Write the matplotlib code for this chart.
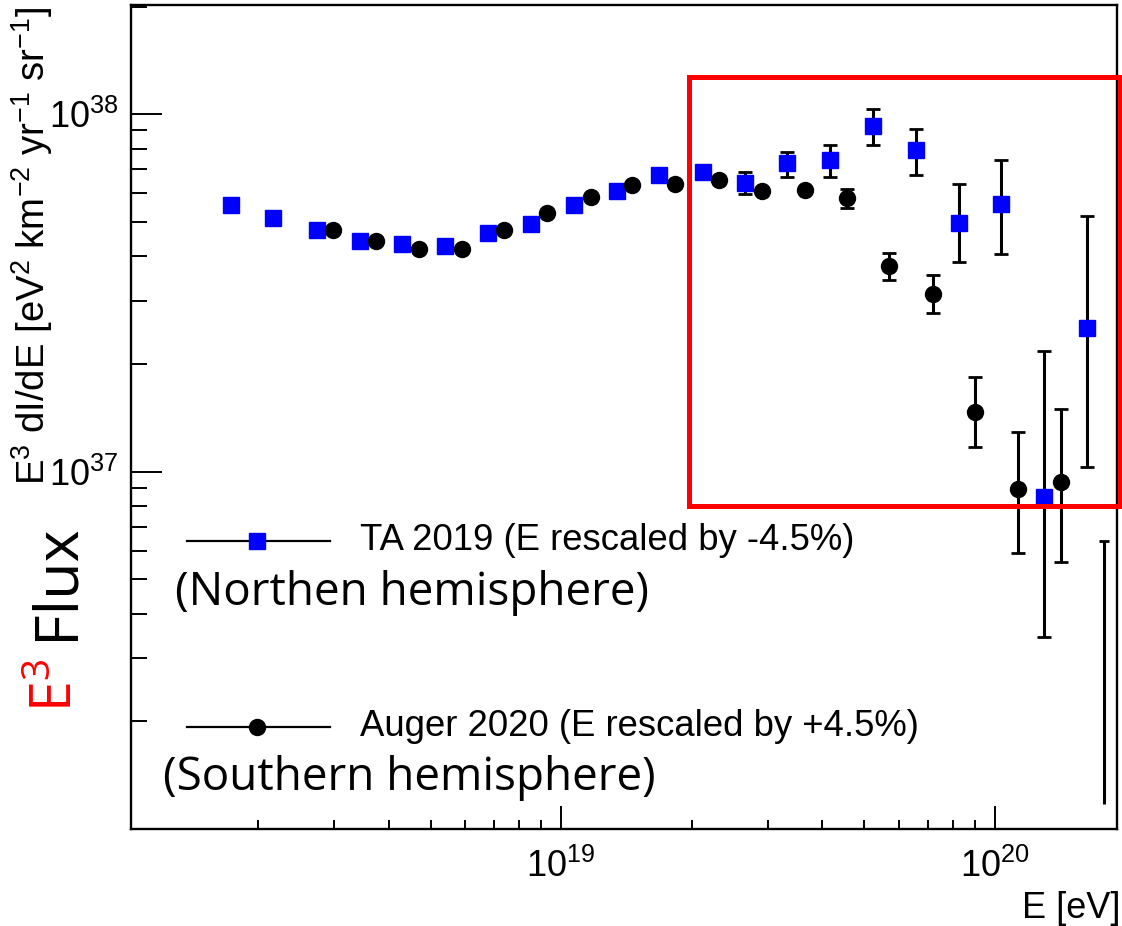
import numpy as np
import matplotlib.pyplot as plt
import matplotlib.ticker as mticker
from matplotlib.patches import Rectangle

plt.rcParams['font.family'] = ['Liberation Sans', 'DejaVu Sans']
plt.rcParams['mathtext.default'] = 'regular'

# TA 2019 (blue squares)
ta_e = [1.73e18, 2.17e18, 2.73e18, 3.43e18, 4.29e18, 5.39e18, 6.77e18, 8.50e18,
        1.068e19, 1.342e19, 1.685e19, 2.118e19, 2.646e19, 3.324e19, 4.176e19,
        5.22e19, 6.56e19, 8.24e19, 1.034e20, 1.30e20, 1.633e20]
ta_flux = [5.57e37, 5.12e37, 4.74e37, 4.42e37, 4.33e37, 4.28e37, 4.65e37, 4.93e37,
           5.57e37, 6.09e37, 6.75e37, 6.88e37, 6.41e37, 7.30e37, 7.44e37,
           9.26e37, 7.93e37, 4.96e37, 5.60e37, 8.50e36, 2.52e37]
ta_lo = [np.nan] * 12 + [5.98e37, 6.67e37, 6.67e37, 8.19e37, 6.75e37, 3.86e37,
                         4.06e37, 3.45e36, 1.031e37]
ta_hi = [np.nan] * 12 + [6.88e37, 7.83e37, 8.19e37, 1.033e38, 9.08e37, 6.37e37,
                         7.44e37, 2.175e37, 5.19e37]

# Auger 2020 (black circles)
au_e = [2.974e18, 3.736e18, 4.69e18, 5.90e18, 7.40e18, 9.30e18, 1.169e19, 1.46e19,
        1.834e19, 2.305e19, 2.896e19, 3.638e19, 4.57e19, 5.71e19, 7.18e19,
        9.01e19, 1.132e20, 1.422e20]
au_flux = [4.74e37, 4.42e37, 4.20e37, 4.20e37, 4.74e37, 5.29e37, 5.86e37, 6.33e37,
           6.37e37, 6.54e37, 6.09e37, 6.13e37, 5.82e37, 3.76e37, 3.14e37,
           1.469e37, 8.94e36, 9.36e36]
au_lo = [np.nan] * 12 + [5.46e37, 3.44e37, 2.78e37, 1.172e37, 5.93e36, 5.59e36]
au_hi = [np.nan] * 12 + [6.17e37, 4.09e37, 3.55e37, 1.84e37, 1.291e37, 1.497e37]

# Auger last bin: only an error bar is visible
au_last_e = 1.786e20
au_last_lo = 1.178e36
au_last_hi = 6.40e36

fig = plt.figure(figsize=(11.22, 9.26), dpi=100)
ax = fig.add_axes([0.1168, 0.1048, 0.8787, 0.8898])

def draw_series(e, f, lo, hi, marker, color):
    e = np.array(e)
    f = np.array(f)
    lo = np.array(lo)
    hi = np.array(hi)
    m = ~np.isnan(lo)
    ax.errorbar(e[m], f[m], yerr=[f[m] - lo[m], hi[m] - f[m]], fmt='none',
                ecolor='black', elinewidth=2.2, capsize=5, capthick=2, zorder=2)
    ax.plot(e, f, ls='none', marker=marker, ms=11.5, color=color, mec=color, zorder=3)

draw_series(ta_e, ta_flux, ta_lo, ta_hi, 's', '#0000ff')
draw_series(au_e, au_flux, au_lo, au_hi, 'o', 'black')
ax.vlines(au_last_e, au_last_lo, au_last_hi, color='black', lw=2.2)
ax.plot(au_last_e, au_last_hi, marker='_', ms=7, mew=2, color='black')

ax.set_xscale('log')
ax.set_yscale('log')
ax.set_xlim(1.02e18, 1.91e20)
ax.set_ylim(1.0e36, 2.02e38)

ax.xaxis.set_major_locator(mticker.FixedLocator([1e19, 1e20]))
ax.yaxis.set_major_locator(mticker.FixedLocator([1e37, 1e38]))
ax.xaxis.set_minor_locator(mticker.LogLocator(base=10, subs=np.arange(2, 10), numticks=20))
ax.yaxis.set_minor_locator(mticker.LogLocator(base=10, subs=np.arange(2, 10), numticks=20))
ax.xaxis.set_major_formatter(mticker.LogFormatterSciNotation())
ax.yaxis.set_major_formatter(mticker.LogFormatterSciNotation())
ax.xaxis.set_minor_formatter(mticker.NullFormatter())
ax.yaxis.set_minor_formatter(mticker.NullFormatter())

for s in ax.spines.values():
    s.set_linewidth(1.7)
ax.tick_params(which='both', direction='in', width=1.4, labelsize=26)
ax.tick_params(axis='y', which='major', length=22, pad=9)
ax.tick_params(axis='y', which='minor', length=11.5)
ax.tick_params(axis='x', which='major', length=16.5, pad=14)
ax.tick_params(axis='x', which='minor', length=6.5)

# legend drawn by hand
ax.plot([0.0568, 0.2018], [0.3495, 0.3495], transform=ax.transAxes, color='black', lw=1.6, clip_on=False)
ax.plot([0.1278], [0.3495], transform=ax.transAxes, marker='s', ms=11.5, color='#0000ff', clip_on=False)
ax.text(0.232, 0.3495, 'TA 2019 (E rescaled by -4.5%)', transform=ax.transAxes,
        fontsize=26.3, va='center', ha='left')
ax.text(0.0441, 0.2718, '(Northen hemisphere)', transform=ax.transAxes,
        fontsize=33, family=['Open Sans', 'DejaVu Sans'], va='baseline', ha='left')

ax.plot([0.0568, 0.2018], [0.1238, 0.1238], transform=ax.transAxes, color='black', lw=1.6, clip_on=False)
ax.plot([0.1278], [0.1238], transform=ax.transAxes, marker='o', ms=11.5, color='black', clip_on=False)
ax.text(0.232, 0.1238, 'Auger 2020 (E rescaled by +4.5%)', transform=ax.transAxes,
        fontsize=26.3, va='center', ha='left')
ax.text(0.0320, 0.0473, '(Southern hemisphere)', transform=ax.transAxes,
        fontsize=33, family=['Open Sans', 'DejaVu Sans'], va='baseline', ha='left')

# axis titles
fig.text(45 / 1122, 1 - 485 / 926, r'E$^{3}$ dI/dE [eV$^{2}$ km$^{-2}$ yr$^{-1}$ sr$^{-1}$]',
         rotation=90, rotation_mode='anchor', ha='left', va='baseline', fontsize=27.5)
fig.text(72 / 1122, 1 - 712 / 926, r'E$^{3}$', color='red', rotation=90, rotation_mode='anchor',
         ha='left', va='baseline', fontsize=40, family=['Open Sans', 'DejaVu Sans'])
fig.text(72 / 1122, 1 - 640 / 926, 'Flux', color='black', rotation=90, rotation_mode='anchor',
         ha='left', va='baseline', fontsize=44, family=['Open Sans', 'DejaVu Sans'])
fig.text(1120 / 1122, 1 - 918 / 926, 'E [eV]', ha='right', va='baseline', fontsize=26)

# highlighted region
fig.add_artist(Rectangle((689 / 1122, 1 - 506 / 926), (1120 - 689) / 1122, (506 - 77) / 926,
                         transform=fig.transFigure, fill=False, edgecolor='red', lw=3.6, zorder=10))

# 10^19 tick is drawn short in the reference
for t in ax.xaxis.get_major_ticks():
    if abs(np.log10(t.get_loc()) - 19) < 0.01:
        t.tick1line.set_markersize(6.5)

fig.savefig('out.png', dpi=100)
